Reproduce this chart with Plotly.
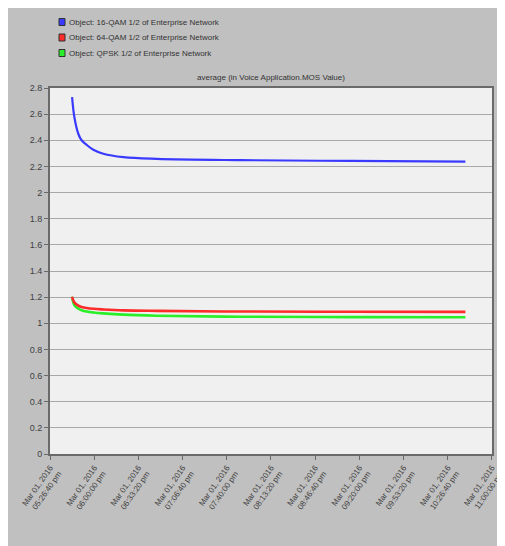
import plotly.graph_objects as go
from datetime import datetime, timedelta

# ---- data ----
start = datetime(2016, 3, 1, 17, 26, 40)
offsets_s = [1000, 1100, 1280, 1430, 1660, 1960, 2410, 3320, 4830, 8600, 13600, 18800]
qam16 = [2.73, 2.58, 2.45, 2.40, 2.365, 2.327, 2.297, 2.271, 2.258, 2.248, 2.242, 2.237]
qam64 = [1.203, 1.16, 1.135, 1.125, 1.117, 1.111, 1.106, 1.099, 1.095, 1.090, 1.088, 1.087]
qpsk = [1.203, 1.14, 1.112, 1.100, 1.090, 1.083, 1.076, 1.066, 1.058, 1.050, 1.047, 1.046]
series_names = ["Object: 16-QAM 1/2 of Enterprise Network",
                "Object: 64-QAM 1/2 of Enterprise Network",
                "Object: QPSK 1/2 of Enterprise Network"]
series_colors = ["#3a3aff", "#ff2a2a", "#2aee2a"]
tick_offsets_s = [0, 2000, 4000, 6000, 8000, 10000, 12000, 14000, 16000, 18000, 20000]
tick_labels = ["Mar 01, 2016<br>05:26:40 pm", "Mar 01, 2016<br>06:00:00 pm",
               "Mar 01, 2016<br>06:33:20 pm", "Mar 01, 2016<br>07:06:40 pm",
               "Mar 01, 2016<br>07:40:00 pm", "Mar 01, 2016<br>08:13:20 pm",
               "Mar 01, 2016<br>08:46:40 pm", "Mar 01, 2016<br>09:20:00 pm",
               "Mar 01, 2016<br>09:53:20 pm", "Mar 01, 2016<br>10:26:40 pm",
               "Mar 01, 2016<br>11:00:00 pm"]
y_ticks = [0, 0.2, 0.4, 0.6, 0.8, 1, 1.2, 1.4, 1.6, 1.8, 2, 2.2, 2.4, 2.6, 2.8]
y_labels = ["0", "0.2", "0.4", "0.6", "0.8", "1", "1.2", "1.4", "1.6", "1.8",
            "2", "2.2", "2.4", "2.6", "2.8"]
title_text = "average (in Voice Application.MOS Value)"

times = [start + timedelta(seconds=s) for s in offsets_s]
tick_times = [start + timedelta(seconds=s) for s in tick_offsets_s]

# page is offset by the 8px body margin
OFF = 8
W, H = 505, 546
L, T = 50 - OFF, 88 - OFF
R = W - (492 - OFF)
B = H - (454 - OFF)
PW, PH = W - L - R, H - T - B


def px(x):
    return (x - OFF - L) / PW


def py(y):
    return 1 + (T - (y - OFF)) / PH


fig = go.Figure()
widths = [2.2, 2.6, 2.6]
order = [2, 1, 0]
data = [qam16, qam64, qpsk]
for i in order:
    fig.add_trace(go.Scatter(x=times, y=data[i], mode="lines", line_shape="spline",
                             line=dict(color=series_colors[i], width=widths[i]),
                             name=series_names[i], showlegend=False))

FONT = "Liberation Sans Narrow, Arial Narrow, Liberation Sans, Arial"
shapes = []
annotations = []
for k, (nm, col) in enumerate(zip(series_names, series_colors)):
    cy = 22 + 15.5 * k
    shapes.append(dict(type="rect", xref="paper", yref="paper",
                       x0=px(59), x1=px(65), y0=py(cy + 3.5), y1=py(cy - 3.5),
                       fillcolor=col, line=dict(color="#303030", width=1)))
    annotations.append(dict(text=nm, xref="paper", yref="paper", x=px(67), y=py(cy),
                            xanchor="left", yanchor="middle", showarrow=False,
                            font=dict(family=FONT, size=8, color="#333333")))
annotations.append(dict(text=title_text, xref="paper", yref="paper", x=px(271), y=py(77),
                        xanchor="center", yanchor="middle", showarrow=False,
                        font=dict(family=FONT, size=8, color="#333333")))

end_range = tick_times[-1] + timedelta(seconds=5)
fig.update_layout(
    width=W, height=H,
    margin=dict(l=L, r=R, t=T, b=B, pad=0),
    paper_bgcolor="#c0c0c0",
    plot_bgcolor="#f0f0f0",
    showlegend=False,
    shapes=shapes,
    annotations=annotations,
    xaxis=dict(type="date", range=[tick_times[0], end_range],
               tickvals=tick_times, ticktext=tick_labels, tickangle=-55,
               ticklabeloverflow="allow",
               showgrid=False, zeroline=False, automargin=False,
               showline=True, linecolor="#6a6a6a", linewidth=2, mirror=True,
               ticks="outside", ticklen=4, tickcolor="#6a6a6a",
               tickfont=dict(family=FONT, size=8, color="#404040")),
    yaxis=dict(range=[0, 2.8], tickvals=y_ticks, ticktext=y_labels,
               showgrid=True, gridcolor="#a8a8a8", gridwidth=1, zeroline=False,
               showline=True, linecolor="#6a6a6a", linewidth=2, mirror=True,
               ticks="outside", ticklen=4, tickcolor="#6a6a6a", automargin=False,
               tickfont=dict(family=FONT, size=9, color="#404040")),
)

fig.write_html("out.html")
